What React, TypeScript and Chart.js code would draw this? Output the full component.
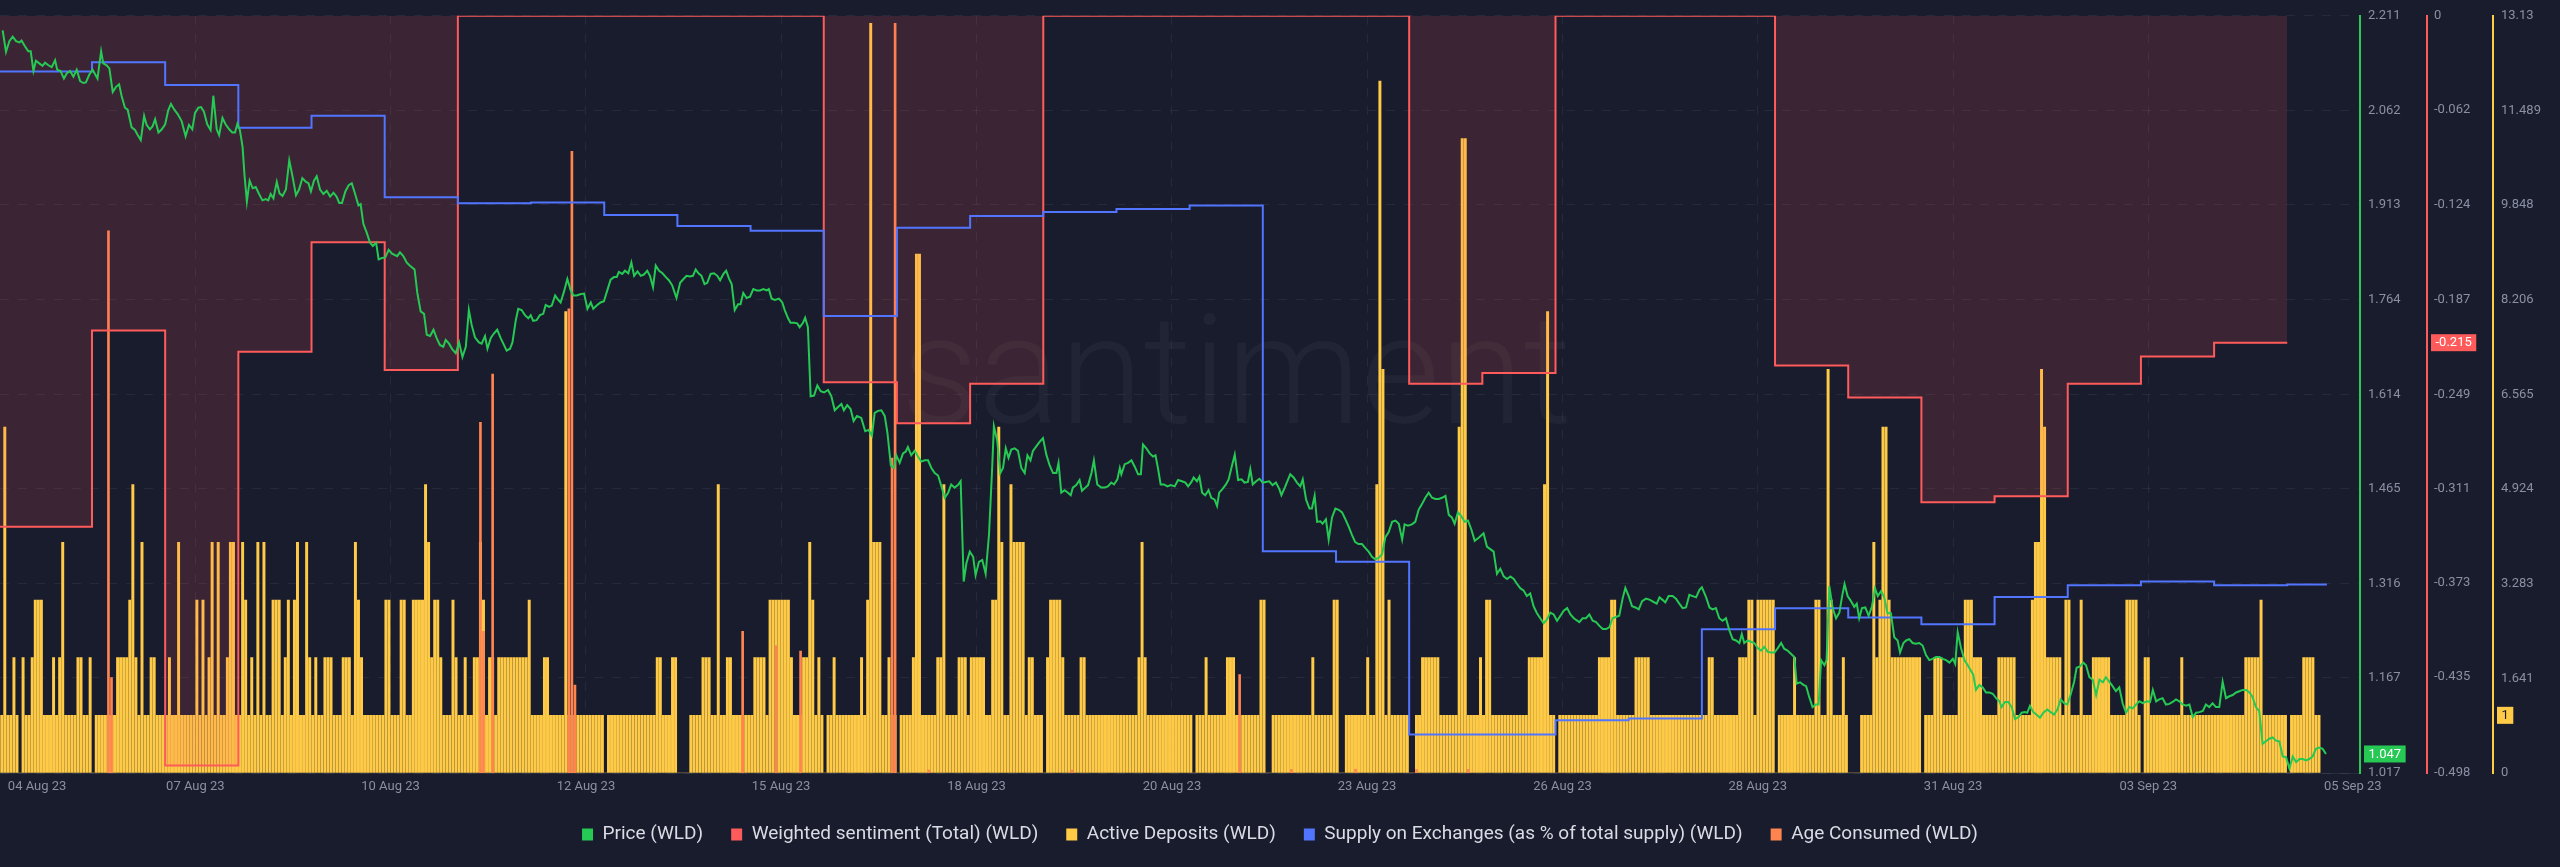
import React, { useEffect, useRef } from 'react';
import { Chart, registerables } from 'chart.js';

Chart.register(...registerables);

const BG = '#191c2d';
const GREEN = '#26c953';
const RED = '#ff5b5b';
const YELLOW = '#ffcb47';
const BLUE = '#5275ff';
const ORANGE = '#ff8450';
const TICK_COLOR = '#8a8fa3';
const GRID_COLOR = 'rgba(255,255,255,0.06)';
const FONT = 'Roboto';

// time axis in hours (0 = start of the 2nd daily sentiment bucket)
const X_MIN_HOUR = -30.17;
const X_MAX_HOUR = 743.85;
const xTickHours = [-18.0, 33.9, 97.9, 162.0, 226.0, 290.1, 354.2, 418.2, 482.3, 546.3, 610.4, 674.4, 741.5];
const xTickLabels = ['04 Aug 23', '07 Aug 23', '10 Aug 23', '12 Aug 23', '15 Aug 23', '18 Aug 23', '20 Aug 23', '23 Aug 23', '26 Aug 23', '28 Aug 23', '31 Aug 23', '03 Sep 23', '05 Sep 23'];

const priceTicks = [2.211, 2.062, 1.913, 1.764, 1.614, 1.465, 1.316, 1.167, 1.017];
const sentimentTicks = [0, -0.062, -0.124, -0.187, -0.249, -0.311, -0.373, -0.435, -0.498];
const depositTicks = [13.13, 11.489, 9.848, 8.206, 6.565, 4.924, 3.283, 1.641, 0];

// Price (WLD): [hour, price]
const pricePoints: [number, number][] = [
  [-29.3,2.188],[-28.2,2.154],[-27.1,2.171],[-26.0,2.178],[-24.9,2.171],[-23.8,2.169],[-23.1,2.172],[-22.0,2.163],[-20.9,2.155],[-20.1,2.155],
  [-19.2,2.124],[-18.4,2.140],[-17.3,2.136],[-16.2,2.132],[-15.4,2.137],[-14.3,2.133],[-13.2,2.130],[-12.1,2.141],[-11.4,2.126],[-10.3,2.124],
  [-9.2,2.112],[-8.3,2.120],[-7.2,2.124],[-6.1,2.115],[-5.0,2.126],[-3.9,2.108],[-2.8,2.105],[-2.0,2.106],[-0.9,2.118],[0.2,2.126],
  [1.8,2.112],[3.0,2.155],[3.7,2.136],[4.8,2.133],[5.7,2.128],[6.8,2.091],[7.9,2.099],[8.9,2.103],[9.7,2.085],[10.8,2.066],
  [11.7,2.063],[13.0,2.035],[14.1,2.031],[14.9,2.024],[16.0,2.015],[17.1,2.053],[17.9,2.039],[19.0,2.032],[19.9,2.037],[20.7,2.048],
  [21.8,2.027],[22.9,2.032],[24.0,2.040],[25.0,2.062],[25.9,2.072],[27.0,2.063],[28.1,2.056],[29.4,2.045],[30.7,2.021],[31.8,2.039],
  [32.9,2.032],[33.8,2.058],[34.9,2.066],[35.8,2.067],[36.7,2.060],[37.8,2.040],[38.9,2.031],[39.8,2.085],[40.9,2.032],[41.7,2.023],
  [42.8,2.050],[43.8,2.040],[45.0,2.032],[46.0,2.027],[46.9,2.027],[47.7,2.041],[48.5,2.031],[49.4,2.004],[50.0,1.961],[50.8,1.918],
  [51.7,1.951],[52.7,1.939],[53.7,1.941],[54.8,1.930],[55.9,1.920],[57.0,1.922],[57.8,1.920],[58.6,1.930],[59.5,1.923],[60.6,1.949],
  [61.5,1.931],[62.5,1.927],[63.6,1.937],[64.7,1.983],[65.8,1.957],[66.9,1.928],[67.9,1.937],[69.0,1.955],[70.2,1.949],[71.0,1.947],
  [71.8,1.934],[72.8,1.951],[73.7,1.958],[74.8,1.937],[75.9,1.930],[77.0,1.935],[78.1,1.926],[79.2,1.932],[80.2,1.926],[81.1,1.916],
  [82.0,1.916],[83.1,1.934],[84.2,1.944],[85.2,1.947],[86.3,1.930],[87.4,1.912],[88.1,1.914],[89.0,1.883],[90.1,1.869],[91.2,1.853],
  [92.1,1.848],[93.2,1.853],[94.0,1.827],[95.1,1.829],[96.2,1.830],[97.3,1.842],[98.4,1.836],
  [100.1,1.832],[101.0,1.838],[102.1,1.832],[103.2,1.822],[104.3,1.817],[105.8,1.811],[106.7,1.774],[107.8,1.745],[108.9,1.741],[109.8,1.708],
  [110.9,1.706],[112.0,1.716],[113.0,1.703],[114.1,1.692],[115.2,1.689],[116.0,1.700],[117.1,1.694],[118.2,1.685],[119.3,1.679],[120.4,1.696],
  [121.5,1.673],[122.6,1.689],[123.6,1.747],[124.5,1.724],[125.6,1.704],[126.9,1.696],[127.8,1.694],[128.9,1.706],[129.7,1.686],[130.8,1.703],
  [131.8,1.710],[132.9,1.716],[134.0,1.703],[135.1,1.692],[136.0,1.683],[137.1,1.686],[137.9,1.696],[139.0,1.731],[139.8,1.749],[140.9,1.747],
  [142.0,1.739],[143.1,1.734],[143.9,1.739],[144.7,1.730],[145.8,1.731],[146.9,1.739],[148.0,1.741],[148.8,1.755],[149.9,1.752],[150.8,1.754],
  [151.9,1.770],[152.6,1.765],[153.7,1.759],[154.8,1.776],[155.9,1.796],[157.0,1.778],[157.9,1.770],[159.0,1.770],[160.1,1.772],[161.4,1.773],
  [162.5,1.749],[163.6,1.759],[164.4,1.749],[165.7,1.755],[166.8,1.759],[167.9,1.761],[169.0,1.778],[170.1,1.795],[171.2,1.799],[172.1,1.799],
  [172.8,1.807],[173.9,1.804],[174.8,1.809],[175.9,1.805],[176.9,1.822],[177.8,1.801],[178.9,1.808],[180.0,1.801],[181.0,1.803],[182.1,1.809],
  [183.0,1.801],[184.0,1.783],[184.9,1.817],[186.0,1.809],[187.1,1.805],[188.2,1.799],[189.2,1.794],[190.3,1.786],[191.7,1.766],[192.9,1.790],
  [194.0,1.796],[195.0,1.801],[196.1,1.800],[197.1,1.801],[198.0,1.811],[198.9,1.805],[199.9,1.801],[200.9,1.788],[201.8,1.790],[202.9,1.804],
  [204.0,1.805],[205.1,1.801],[206.0,1.794],[207.1,1.804],[208.0,1.809],[208.9,1.797],[209.8,1.788],[210.8,1.747],[211.9,1.756],[212.7,1.756],
  [213.6,1.774],[214.7,1.766],[215.8,1.768],[216.9,1.780],[218.0,1.778],[219.1,1.778],[220.2,1.780],[221.3,1.778],[222.0,1.780],[222.9,1.765],
  [224.0,1.763],[225.3,1.765],[226.4,1.759],[227.2,1.747],[228.3,1.734],
  [229.1,1.727],[230.2,1.727],[231.3,1.726],[232.1,1.720],[233.2,1.727],[233.9,1.735],[234.8,1.720],[235.7,1.611],[236.8,1.612],[237.9,1.628],
  [239.0,1.619],[240.1,1.617],[241.4,1.621],[242.5,1.611],[243.6,1.589],[244.7,1.594],[245.8,1.599],[246.6,1.589],[247.7,1.597],[248.8,1.591],
  [249.8,1.572],[250.9,1.580],[252.3,1.577],[253.6,1.556],[254.7,1.558],[255.8,1.549],[256.7,1.585],[257.8,1.588],[258.9,1.589],[260.0,1.580],
  [260.9,1.553],[262.0,1.502],[263.0,1.498],[263.8,1.518],[264.9,1.506],[266.0,1.521],[266.9,1.524],[267.6,1.531],[268.7,1.518],[269.8,1.525],
  [270.9,1.516],[272.0,1.508],[273.1,1.510],[274.2,1.510],[275.3,1.498],[276.4,1.490],[277.5,1.486],[278.6,1.469],[279.7,1.451],[280.8,1.459],
  [281.8,1.472],[282.9,1.467],[284.0,1.471],[284.9,1.477],[285.9,1.319],[286.8,1.348],[287.9,1.366],[289.0,1.358],[289.8,1.329],[290.9,1.350],
  [292.0,1.353],[293.1,1.331],[294.2,1.393],[295.2,1.494],[295.8,1.564],[296.9,1.541],[297.9,1.490],[298.8,1.498],[299.7,1.529],[300.6,1.514],
  [301.5,1.527],[302.6,1.529],[303.7,1.525],[304.8,1.498],[305.9,1.490],[306.8,1.518],[307.8,1.510],[308.6,1.525],[309.7,1.532],[310.8,1.539],
  [311.9,1.545],[313.0,1.519],[314.1,1.502],[315.2,1.490],[316.3,1.490],[317.0,1.506],[317.9,1.459],[319.0,1.463],[320.1,1.459],[321.0,1.455],
  [321.7,1.467],[322.8,1.471],[323.9,1.479],[324.7,1.462],[325.8,1.467],[326.7,1.471],[327.8,1.490],[328.6,1.510],[329.7,1.472],[331.0,1.467],
  [332.1,1.467],[333.2,1.469],[334.3,1.475],[335.2,1.472],[336.3,1.480],[337.1,1.498],[337.6,1.488],[338.7,1.504],[339.8,1.506],[340.9,1.510],
  [342.0,1.500],[343.1,1.488],[344.0,1.488],[344.7,1.535],[345.8,1.529],[346.9,1.521],[348.0,1.516],[348.8,1.518],[349.6,1.498],[350.5,1.472],
  [351.6,1.472],[352.7,1.469],[353.8,1.471],[355.1,1.469],[356.2,1.479],[357.5,1.477],
  [358.6,1.475],[359.5,1.469],[360.6,1.476],[361.3,1.483],[362.4,1.477],[363.2,1.484],[364.1,1.459],[365.1,1.455],[366.2,1.463],[367.1,1.451],
  [368.2,1.448],[369.0,1.438],[369.7,1.459],[370.8,1.465],[371.9,1.472],[372.8,1.480],[373.7,1.498],[374.8,1.519],[375.9,1.479],[377.0,1.480],
  [378.0,1.475],[379.1,1.476],[379.9,1.496],[380.7,1.472],[381.8,1.477],[382.9,1.481],[384.0,1.475],[385.0,1.476],[386.1,1.477],[387.2,1.471],
  [388.3,1.475],[389.4,1.465],[390.1,1.455],[391.2,1.467],[392.3,1.480],[393.0,1.488],[394.1,1.483],[395.2,1.475],[396.3,1.469],[397.1,1.480],
  [398.2,1.448],[399.3,1.434],[400.1,1.434],[401.0,1.454],[401.8,1.413],[402.9,1.414],[403.6,1.410],[404.7,1.417],[405.6,1.385],[406.7,1.420],
  [407.8,1.434],[408.9,1.432],[410.0,1.428],[411.1,1.417],[412.2,1.405],[413.2,1.393],[414.3,1.381],[415.4,1.378],[416.5,1.378],[417.6,1.372],
  [418.7,1.366],[419.8,1.358],[420.9,1.354],[422.0,1.356],[423.1,1.362],[424.2,1.389],[425.3,1.397],[426.4,1.413],[427.5,1.415],[428.6,1.410],
  [429.7,1.385],[430.5,1.409],[431.6,1.407],[432.9,1.409],[434.0,1.413],[435.1,1.432],[436.2,1.441],[437.3,1.451],[438.4,1.459],[439.5,1.451],
  [440.6,1.449],[441.7,1.449],[442.8,1.451],[443.9,1.454],[445.0,1.424],[446.0,1.420],[446.9,1.410],[448.0,1.428],[449.1,1.422],[450.2,1.413],
  [451.3,1.415],[452.4,1.401],[453.5,1.383],[454.6,1.387],[455.7,1.392],[456.4,1.395],[457.5,1.374],[458.6,1.370],[459.7,1.366],[460.8,1.331],
  [461.9,1.339],[463.0,1.327],[464.1,1.323],[465.2,1.327],[466.3,1.323],[467.4,1.315],[468.5,1.308],[469.5,1.305],[470.6,1.296],[471.7,1.300],
  [472.8,1.280],[473.9,1.269],[475.0,1.261],[476.1,1.253],[477.2,1.259],[478.3,1.270],[479.4,1.267],[480.5,1.257],[481.6,1.265],[482.7,1.273],
  [483.8,1.277],[484.9,1.267],[486.0,1.261],
  [487.8,1.255],[488.9,1.261],[490.0,1.261],[491.1,1.267],[492.2,1.257],[493.3,1.255],[494.4,1.249],[495.5,1.244],[496.6,1.244],[497.7,1.247],
  [498.7,1.261],[499.8,1.263],[500.9,1.265],[502.0,1.292],[502.9,1.309],[504.0,1.296],[505.1,1.280],[506.2,1.278],[507.3,1.275],[508.4,1.288],
  [509.7,1.292],[511.0,1.290],[512.1,1.287],[513.2,1.284],[514.1,1.294],[515.1,1.290],[516.0,1.286],[517.1,1.296],[518.4,1.296],[519.5,1.292],
  [520.6,1.284],[521.7,1.277],[522.8,1.278],[523.9,1.298],[525.0,1.296],[526.1,1.294],[527.2,1.306],[528.0,1.310],[529.4,1.294],[530.5,1.278],
  [531.5,1.275],[532.6,1.277],[533.7,1.261],[534.8,1.257],[535.9,1.261],[537.0,1.242],[538.1,1.228],[539.2,1.226],[540.3,1.222],[541.1,1.236],
  [541.9,1.222],[543.0,1.226],[544.1,1.224],[545.2,1.222],[546.3,1.214],[547.4,1.210],[548.5,1.216],[549.6,1.208],[550.7,1.207],[551.8,1.207],
  [552.9,1.214],[554.0,1.222],[555.0,1.213],[556.1,1.210],[557.2,1.205],[558.3,1.200],[559.1,1.158],[560.2,1.160],[561.3,1.156],[562.2,1.154],
  [563.2,1.137],[564.3,1.121],[565.4,1.125],[566.3,1.125],[567.1,1.195],[568.2,1.187],[568.9,1.195],[569.8,1.312],[570.9,1.277],[572.0,1.261],
  [573.1,1.270],[574.0,1.296],[574.8,1.315],[575.8,1.296],[576.9,1.288],[578.0,1.279],[578.8,1.284],[579.6,1.261],[580.5,1.277],[581.6,1.278],
  [582.7,1.265],[583.8,1.280],[584.8,1.308],[585.7,1.296],[586.8,1.304],[587.8,1.294],[588.9,1.269],[590.0,1.269],[591.1,1.231],[592.2,1.226],
  [593.0,1.207],[594.1,1.222],[595.0,1.226],[596.0,1.228],[597.1,1.222],[598.2,1.221],[599.3,1.222],[600.4,1.218],[601.5,1.203],[602.6,1.195],
  [603.7,1.197],[604.8,1.200],[605.9,1.200],[607.0,1.197],[608.1,1.195],[609.2,1.191],[610.3,1.197],[611.1,1.189],[611.9,1.239],[613.0,1.214],
  [614.1,1.195],[615.2,1.187],
  [617.0,1.172],[617.9,1.148],[619.0,1.156],[620.1,1.152],[621.2,1.144],[622.3,1.144],[623.4,1.142],[624.5,1.135],[625.6,1.130],[626.3,1.121],
  [627.4,1.129],[628.5,1.129],[629.6,1.121],[630.7,1.102],[631.8,1.105],[632.9,1.112],[634.0,1.113],[634.7,1.112],[635.6,1.123],[636.7,1.113],
  [637.8,1.109],[638.9,1.104],[640.0,1.112],[641.3,1.117],[642.4,1.113],[643.5,1.109],[644.6,1.117],[645.7,1.133],[646.8,1.127],[647.9,1.125],
  [648.9,1.140],[650.1,1.161],[650.9,1.183],[652.0,1.185],[653.1,1.191],[654.0,1.187],[655.1,1.168],[656.2,1.164],[657.3,1.140],[658.4,1.164],
  [659.5,1.160],[660.5,1.168],[661.6,1.161],[662.7,1.154],[663.8,1.146],[664.9,1.152],[666.0,1.127],[667.1,1.112],[668.2,1.121],[669.3,1.119],
  [670.4,1.125],[671.5,1.130],[672.6,1.127],[673.9,1.130],[675.0,1.129],[675.9,1.148],[677.0,1.130],[678.0,1.133],[679.1,1.135],[680.2,1.125],
  [681.3,1.126],[682.4,1.129],[683.5,1.133],[684.6,1.130],[685.7,1.125],[686.8,1.123],[687.9,1.125],[689.0,1.105],[690.1,1.112],[691.2,1.113],
  [692.3,1.115],[693.3,1.125],[694.4,1.121],[695.5,1.127],[696.6,1.121],[697.7,1.121],[698.8,1.161],[699.9,1.135],[701.0,1.138],[702.1,1.140],
  [703.2,1.144],[704.3,1.146],[705.4,1.148],[706.5,1.148],[707.6,1.144],[708.6,1.137],[709.7,1.121],[710.8,1.115],[711.9,1.063],[713.0,1.067],
  [714.1,1.071],[715.2,1.073],[716.3,1.068],[717.4,1.067],[718.5,1.043],[719.6,1.042],[720.7,1.024],[721.8,1.043],[722.9,1.034],[724.0,1.039],
  [725.1,1.039],[726.1,1.037],[727.2,1.039],[728.3,1.043],[729.4,1.055],[730.5,1.057],[731.6,1.055],[732.7,1.047],
];

// Weighted sentiment (daily buckets; first = bucket already running at chart start)
const sentimentDaily = [
  -0.336, -0.207, -0.493, -0.221, -0.149, -0.233, 0, 0, 0, 0, 0, -0.241, -0.268, -0.242,
  0, 0, 0, 0, 0, -0.242, -0.235, 0, 0, 0, -0.230, -0.251, -0.320, -0.316, -0.242, -0.224, -0.215,
];
const SENTIMENT_END_HOUR = 720;

// Supply on exchanges (% of total supply), daily buckets
const supplyDaily = [
  11.853, 11.877, 11.817, 11.704, 11.736, 11.521, 11.505, 11.507, 11.474, 11.445, 11.432, 11.207,
  11.44, 11.471, 11.482, 11.49, 11.499, 10.586, 10.558, 10.102, 10.102, 10.139, 10.144, 10.38,
  10.435, 10.411, 10.393, 10.465, 10.496, 10.506, 10.496, 10.498,
];
const SUPPLY_END_HOUR = 733;

// Active deposits, hourly, run-length encoded as [value, count]
const DEPOSIT_START_HOUR = -29.6;
const depositRuns: [number, number][] = [
  [1,1],[6,1],[1,2],[2,1],[1,1],[0,1],[2,1],[1,2],[2,1],[3,3],[1,3],[2,1],[1,1],[2,1],[4,1],[1,4],[2,2],[1,2],[2,1],[0,1],
  [1,7],[2,4],[3,1],[5,1],[2,1],[1,1],[4,1],[1,2],[2,2],[1,4],[2,1],[1,2],[4,1],[1,5],[3,1],[1,1],[3,1],[1,1],[2,1],[4,1],
  [1,1],[4,1],[1,2],[2,1],[4,2],[1,2],[4,1],[3,1],[1,1],[2,1],[1,1],[4,1],[1,1],[4,1],[1,2],[3,3],[1,1],[2,1],[3,1],[1,1],
  [3,1],[4,1],[1,2],[4,1],[2,1],[1,1],[2,1],[1,2],[2,3],[1,3],[2,3],[1,1],[4,1],[3,1],[2,1],[1,7],[3,2],[1,3],[3,2],[1,2],
  [3,4],[5,1],[4,1],[2,1],[3,2],[2,1],[1,3],[3,1],[2,1],[1,2],[2,1],[1,2],[2,2],[4,1],[3,1],[1,1],[2,2],[1,1],[2,10],[3,1],
  [1,4],[2,2],[1,5],[8,1],[1,12],[0,1],[1,16],[2,2],[1,3],[2,2],[0,4],[1,4],[2,3],[1,2],[5,1],[1,2],[2,2],[1,7],[2,4],[1,1],
  [3,7],[2,1],[1,3],[2,2],[4,1],[3,1],[1,1],[2,1],[1,1],[0,1],[1,2],[2,1],[1,8],[2,1],[1,1],[3,1],[13,1],[4,3],[1,2],[2,1],
  [1,2],[0,1],[1,4],[2,1],[9,2],[1,5],[2,2],[5,1],[1,4],[2,3],[1,1],[2,5],[1,2],[3,2],[6,1],[4,1],[1,2],[5,1],[4,4],[1,1],
  [2,2],[1,3],[0,1],[2,1],[3,4],[2,1],[1,5],[2,2],[1,17],[2,1],[4,1],[2,1],[1,15],[0,1],[1,3],[2,1],[1,6],[2,3],[1,8],[3,2],
  [0,2],[1,13],[2,1],[1,6],[3,2],[0,2],[1,7],[2,1],[1,2],[5,1],[12,1],[7,1],[1,1],[3,1],[1,6],[0,2],[1,2],[2,6],[1,6],[6,1],
  [11,2],[1,4],[2,1],[1,1],[3,2],[1,12],[2,5],[5,1],[8,1],[1,2],[0,1],[1,13],[2,4],[3,2],[1,6],[2,5],[1,19],[2,2],[1,8],[2,3],
  [3,2],[1,1],[3,6],[0,1],[1,5],[2,1],[1,6],[3,2],[1,2],[7,1],[3,1],[1,3],[2,1],[1,1],[0,4],[1,4],[4,1],[2,1],[3,1],[6,2],
  [3,1],[2,10],[0,1],[1,3],[2,3],[1,5],[2,2],[3,3],[2,3],[1,5],[2,6],[1,5],[3,1],[4,2],[7,1],[6,1],[2,5],[1,1],[3,2],[1,3],
  [3,1],[1,3],[2,6],[1,5],[3,4],[1,1],[0,1],[2,2],[1,10],[2,1],[1,20],[2,5],[3,1],[1,8],[0,1],[1,4],[2,4],[1,2],
];

// Age consumed: [hour index (same grid as deposits), value]
const ageConsumed: [number, number][] = [
  [35,71.6],[36,12.6],[157,46.3],[158,18.7],[161,52.7],[186,61.3],[187,82.1],[188,11.6],[243,18.7],[254,16.8],
  [262,16.1],[292,41.6],[293,99.0],[304,0.4],[351,0.4],[406,13.0],[423,0.5],[444,0.5],[464,0.5],[481,0.5],
];

const seriesNames = [
  'Price (WLD)',
  'Weighted sentiment (Total) (WLD)',
  'Active Deposits (WLD)',
  'Supply on Exchanges (as % of total supply) (WLD)',
  'Age Consumed (WLD)',
];
const seriesColors = [GREEN, RED, YELLOW, BLUE, ORANGE];

function dailyToPoints(values: number[], endHour: number) {
  const pts = values.map((v, i) => ({ x: i === 0 ? X_MIN_HOUR : (i - 1) * 24, y: v }));
  pts.push({ x: endHour, y: values[values.length - 1] });
  return pts;
}

function expandRuns(runs: [number, number][]) {
  const out: number[] = [];
  runs.forEach(([v, n]) => { for (let k = 0; k < n; k++) out.push(v); });
  return out;
}

const watermarkPlugin = {
  id: 'watermark',
  beforeDraw(chart: any) {
    const { ctx, width, height } = chart;
    ctx.save();
    ctx.fillStyle = BG;
    ctx.fillRect(0, 0, width, height);
    ctx.restore();
  },
  beforeDatasetsDraw(chart: any) {
    const { ctx, chartArea: a } = chart;
    ctx.save();
    ctx.font = `300 152px ${FONT}`;
    ctx.fillStyle = 'rgba(255,255,255,0.035)';
    ctx.textAlign = 'center';
    ctx.textBaseline = 'alphabetic';
    ctx.fillText('santiment', a.left + a.width * 0.524, a.top + a.height * 0.538);
    ctx.restore();
  },
};

const tagsPlugin = {
  id: 'lastTags',
  afterDraw(chart: any) {
    const ctx = chart.ctx;
    const deposits = chart.data.datasets[2].data;
    const lastPrice = pricePoints[pricePoints.length - 1][1];
    const lastSent = sentimentDaily[sentimentDaily.length - 1];
    const lastDep = deposits[deposits.length - 1].y;
    const tags = [
      { axis: 'yPrice', value: lastPrice, text: lastPrice.toFixed(3), bg: GREEN, fg: '#ffffff' },
      { axis: 'ySent', value: lastSent, text: lastSent.toFixed(3), bg: RED, fg: '#ffffff' },
      { axis: 'yDep', value: lastDep, text: String(lastDep), bg: YELLOW, fg: '#1a1d2d' },
    ];
    ctx.save();
    ctx.font = `13px ${FONT}`;
    tags.forEach((t) => {
      const s = chart.scales[t.axis];
      const y = s.getPixelForValue(t.value);
      const w = ctx.measureText(t.text).width + 9;
      const x = s.left + 4;
      ctx.fillStyle = t.bg;
      ctx.fillRect(x, y - 8.5, w, 17);
      ctx.fillStyle = t.fg;
      ctx.textAlign = 'left';
      ctx.textBaseline = 'middle';
      ctx.fillText(t.text, x + 4.5, y + 0.5);
    });
    ctx.restore();
  },
};

export default function App() {
  const ref = useRef<HTMLCanvasElement>(null);

  useEffect(() => {
    document.body.style.margin = '0';
    document.body.style.background = BG;
    const depositValues = expandRuns(depositRuns);
    const tickFont = { family: FONT, size: 13 };

    const chart = new Chart(ref.current as HTMLCanvasElement, {
      type: 'line',
      data: {
        datasets: [
          {
            type: 'line',
            label: seriesNames[0],
            data: pricePoints.map(([h, p]) => ({ x: h, y: p })),
            yAxisID: 'yPrice',
            borderColor: GREEN,
            borderWidth: 2,
            pointRadius: 0,
            tension: 0,
            order: 0,
          },
          {
            type: 'line',
            label: seriesNames[1],
            data: dailyToPoints(sentimentDaily, SENTIMENT_END_HOUR),
            yAxisID: 'ySent',
            borderColor: RED,
            borderWidth: 2,
            backgroundColor: 'rgba(255,91,91,0.15)',
            fill: 'end',
            stepped: 'before',
            pointRadius: 0,
            order: 2,
          },
          {
            type: 'bar',
            label: seriesNames[2],
            data: depositValues.map((v, i) => ({ x: DEPOSIT_START_HOUR + i, y: v })),
            yAxisID: 'yDep',
            backgroundColor: YELLOW,
            borderWidth: 0,
            barThickness: 2.3,
            grouped: false,
            order: 4,
          },
          {
            type: 'line',
            label: seriesNames[3],
            data: dailyToPoints(supplyDaily, SUPPLY_END_HOUR),
            yAxisID: 'ySupply',
            borderColor: BLUE,
            borderWidth: 2,
            stepped: 'before',
            pointRadius: 0,
            fill: false,
            order: 1,
          },
          {
            type: 'bar',
            label: seriesNames[4],
            data: ageConsumed.map(([i, v]) => ({ x: DEPOSIT_START_HOUR + i, y: v })),
            yAxisID: 'yAge',
            backgroundColor: ORANGE,
            borderWidth: 0,
            barThickness: 2,
            grouped: false,
            order: 3,
          },
        ] as any,
      },
      options: {
        responsive: false,
        animation: false,
        devicePixelRatio: 1,
        events: [],
        layout: { padding: { top: 9, right: 0, bottom: 13, left: 0 } },
        plugins: {
          tooltip: { enabled: false },
          legend: {
            position: 'bottom',
            labels: {
              color: '#d9dce4',
              font: { family: FONT, size: 19 },
              boxWidth: 11,
              boxHeight: 12,
              padding: 28,
              generateLabels: (c: any) =>
                c.data.datasets.map((ds: any, i: number) => ({
                  text: ds.label,
                  fillStyle: seriesColors[i],
                  strokeStyle: seriesColors[i],
                  lineWidth: 0,
                  hidden: false,
                  datasetIndex: i,
                  fontColor: '#d9dce4',
                })),
            },
          },
        },
        scales: {
          x: {
            type: 'linear',
            min: X_MIN_HOUR,
            max: X_MAX_HOUR,
            offset: false,
            afterBuildTicks: (s: any) => { s.ticks = xTickHours.map((v) => ({ value: v })); },
            afterFit: (s: any) => { s.height = 24; },
            ticks: {
              callback: (_v: any, i: number) => xTickLabels[i],
              autoSkip: false,
              maxRotation: 0,
              color: TICK_COLOR,
              font: tickFont,
              padding: 6,
            },
            grid: {
              color: (ctx: any) => (ctx.index === 0 || ctx.index === xTickHours.length - 1 ? 'rgba(0,0,0,0)' : GRID_COLOR),
              drawTicks: false,
              offset: false,
            },
            border: { display: true, color: 'rgba(255,255,255,0.07)', dash: [9, 9] },
          },
          yPrice: {
            type: 'linear',
            position: 'right',
            weight: 0,
            min: 1.017,
            max: 2.211,
            afterBuildTicks: (s: any) => { s.ticks = priceTicks.map((v) => ({ value: v })); },
            afterFit: (s: any) => { s.width = 67; },
            ticks: { callback: (v: any) => String(v), color: TICK_COLOR, font: tickFont, padding: 8 },
            grid: { color: GRID_COLOR, drawTicks: false },
            border: { color: GREEN, width: 2, dash: [9, 9] },
          },
          ySent: {
            type: 'linear',
            position: 'right',
            weight: 1,
            min: -0.498,
            max: 0,
            afterBuildTicks: (s: any) => { s.ticks = sentimentTicks.map((v) => ({ value: v })); },
            afterFit: (s: any) => { s.width = 66; },
            ticks: { callback: (v: any) => String(v), color: TICK_COLOR, font: tickFont, padding: 7 },
            grid: { drawOnChartArea: false, drawTicks: false },
            border: { color: RED, width: 2 },
          },
          yDep: {
            type: 'linear',
            position: 'right',
            weight: 2,
            min: 0,
            max: 13.13,
            afterBuildTicks: (s: any) => { s.ticks = depositTicks.map((v) => ({ value: v })); },
            afterFit: (s: any) => { s.width = 67; },
            ticks: { callback: (v: any) => String(v), color: TICK_COLOR, font: tickFont, padding: 8 },
            grid: { drawOnChartArea: false, drawTicks: false },
            border: { color: YELLOW, width: 2 },
          },
          ySupply: { type: 'linear', display: false, min: 10, max: 12 },
          yAge: { type: 'linear', display: false, min: 0, max: 100 },
        },
      } as any,
      plugins: [watermarkPlugin, tagsPlugin],
    });

    return () => chart.destroy();
  }, []);

  return (
    <div style={{ width: 2560, height: 867, background: BG }}>
      <canvas ref={ref} width={2560} height={867} style={{ display: 'block', width: 2560, height: 867 }} />
    </div>
  );
}
